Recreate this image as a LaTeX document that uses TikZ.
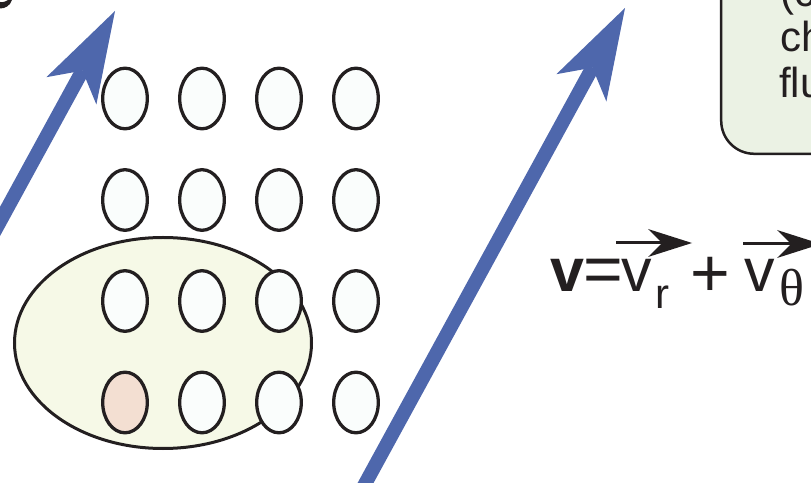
\documentclass[tikz,border=0pt]{standalone}
\usepackage{fontspec}
\setmainfont{Liberation Sans}
\newfontfamily\serifgreek{Liberation Serif}
\usetikzlibrary{arrows.meta}
\definecolor{ink}{HTML}{231F20}
\definecolor{flowblue}{HTML}{4E67AC}
\definecolor{cellfill}{HTML}{FAFDFC}
\definecolor{tagfill}{HTML}{F3DFD2}
\definecolor{blobfill}{HTML}{F6F9E7}
\definecolor{notefill}{HTML}{EBF2E4}
\tikzset{
  cell/.style={draw=ink, line width=3.3pt, fill=cellfill},
  tagged/.style={cell, fill=tagfill},
  blob/.style={draw=ink, line width=3pt, fill=blobfill},
  flow/.style={draw=flowblue, line width=14pt,
    -{Stealth[length=91pt, width=57pt, inset=23pt, line width=0pt]}},
  vecbar/.style={draw=ink, line width=3pt,
    -{Stealth[length=44pt, width=28pt, inset=14pt, line width=0pt]}},
  eqtxt/.style={inner sep=0pt, outer sep=0pt, text=ink},
}
\begin{document}
\begin{tikzpicture}[x=1pt, y=1pt]
\clip (0,0) rectangle (811,482);

% fragment of a glyph at the top-left corner
\fill[ink] (0,480) .. controls (4,479.5) and (7,481) .. (8,482) -- (12,482)
  .. controls (10,476) and (5,473.5) .. (0,473.5) -- cycle;

% streamline arrows
\coordinate (tailA) at (-28.7,208);
\coordinate (tipA)  at (115,471);
\draw[flow] (tailA) -- (tipA);
\coordinate (tailB) at (356.8,-17);
\coordinate (tipB)  at (625,474);
\draw[flow] (tailB) -- (tipB);

% fluid parcel enclosing part of the lattice
\draw[blob] (163,139) ellipse [x radius=148.5, y radius=105.5];

% lattice of particles, 4 columns x 4 rows
\foreach \r/\Y in {1/383.5, 2/282, 3/181, 4/79.5}{
  \foreach \c/\X in {1/125, 2/202, 3/279, 4/356}{
    \ifnum\r=4 \ifnum\c=1
      \draw[tagged] (\X,\Y) ellipse [x radius=22.3, y radius=30.3];
    \else
      \draw[cell] (\X,\Y) ellipse [x radius=22.3, y radius=30.3];
    \fi\else
      \draw[cell] (\X,\Y) ellipse [x radius=22.3, y radius=30.3];
    \fi
  }
}

% note box
\draw[draw=ink, line width=2.5pt, fill=notefill, rounded corners=33pt]
  (721.2,328.2) rectangle (900,520);
\begin{scope}[every node/.style={anchor=base west, inner sep=0pt, text=ink,
    font=\fontsize{42}{46}\selectfont}]
  \node (n1) at (780,475) {(c};
  \node (n2) at (780,430) {ch};
  \node (n3) at (779,384) {flu};
\end{scope}

% velocity decomposition
\node[eqtxt, anchor=base west, font=\fontsize{61}{61}\selectfont\bfseries] (vb) at (550,190) {v};
\node[eqtxt, anchor=center, font=\fontsize{68}{68}\selectfont] (eq) at (603.5,206) {=};
\node[eqtxt, anchor=base west, font=\fontsize{61}{61}\selectfont] (v1) at (621,190) {v};
\node[eqtxt, anchor=base west, font=\fontsize{42}{42}\selectfont] (sr) at (655,173) {r};
\node[eqtxt, anchor=center, font=\fontsize{68}{68}\selectfont] (pl) at (710,205) {+};
\node[eqtxt, anchor=base west, font=\fontsize{61}{61}\selectfont] (v2) at (744,190) {v};
\node[eqtxt, anchor=base west, font=\fontsize{52}{52}\selectfont\serifgreek] (st) at (779,176) {θ};
\coordinate (a1s) at (616,239);
\coordinate (a1e) at (692,239);
\draw[vecbar] (a1s) -- (a1e);
\coordinate (a2s) at (743,238);
\coordinate (a2e) at (821,238);
\draw[vecbar] (a2s) -- (a2e);
\end{tikzpicture}
\end{document}
